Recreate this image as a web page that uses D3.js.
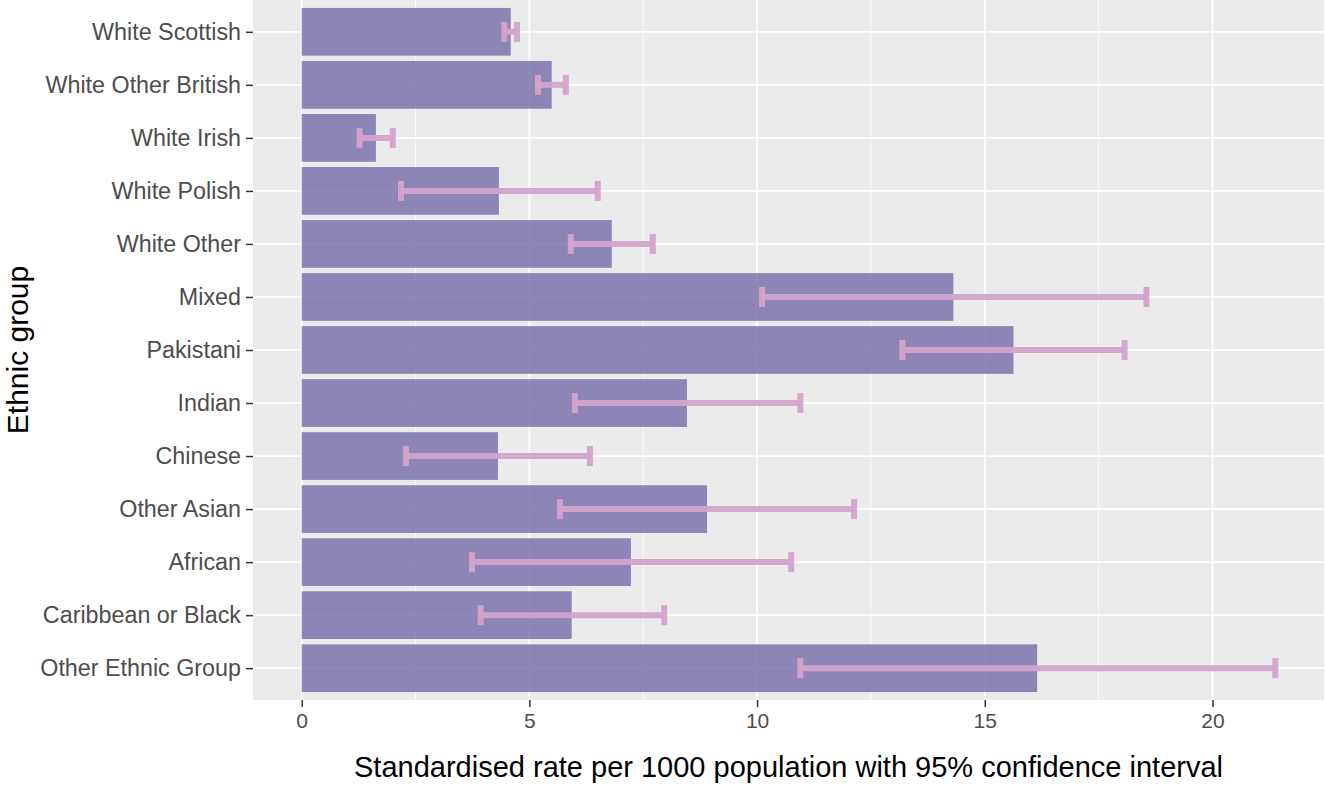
<!DOCTYPE html>
<html>
<head>
<meta charset="utf-8">
<script src="https://cdn.jsdelivr.net/npm/d3@7"></script>
<style>
  body { margin: 0; background: #fff; }
  text { font-family: "Liberation Sans", Arial, sans-serif; }
</style>
</head>
<body>
<svg id="chart" width="1325" height="785"></svg>
<script>
const groups = ["White Scottish", "White Other British", "White Irish", "White Polish", "White Other",
  "Mixed", "Pakistani", "Indian", "Chinese", "Other Asian", "African", "Caribbean or Black", "Other Ethnic Group"];
const rates = [4.59, 5.49, 1.63, 4.33, 6.81, 14.31, 15.63, 8.46, 4.31, 8.90, 7.23, 5.93, 16.15];
const lower = [4.45, 5.19, 1.27, 2.18, 5.91, 10.11, 13.19, 6.00, 2.29, 5.67, 3.74, 3.93, 10.95];
const upper = [4.73, 5.80, 2.00, 6.50, 7.71, 18.55, 18.07, 10.95, 6.33, 12.13, 10.75, 7.96, 21.38];
const xTicks = [0, 5, 10, 15, 20];
const xMinor = [2.5, 7.5, 12.5, 17.5, 22.5];

const data = groups.map((g, i) => ({group: g, rate: rates[i], lo: lower[i], hi: upper[i]}));

const margin = {top: 0, right: 1, bottom: 85, left: 253};
const svg = d3.select("#chart");
const width = +svg.attr("width") - margin.left - margin.right;
const height = +svg.attr("height") - margin.top - margin.bottom;
const g = svg.append("g").attr("transform", `translate(${margin.left},${margin.top})`);

const xMax = d3.max(upper);
const pad = xMax * 0.05;
const x = d3.scaleLinear().domain([-pad, xMax + pad]).range([0, width]);

// discrete y with ggplot-like 0.6 expansion
const step = height / (groups.length - 1 + 1.2);
const y = d3.scalePoint().domain(groups).range([0.6 * step, height - 0.6 * step]);
const barH = step * 0.9;

// panel
g.append("rect").attr("width", width).attr("height", height).attr("fill", "#ebebeb");

g.selectAll(".minor").data(xMinor.filter(v => x(v) < width)).join("line")
  .attr("x1", d => x(d)).attr("x2", d => x(d)).attr("y1", 0).attr("y2", height)
  .attr("stroke", "#fff").attr("stroke-width", 0.8);
g.selectAll(".major").data(xTicks).join("line")
  .attr("x1", d => x(d)).attr("x2", d => x(d)).attr("y1", 0).attr("y2", height)
  .attr("stroke", "#fff").attr("stroke-width", 1.7);
g.selectAll(".hgrid").data(groups).join("line")
  .attr("x1", 0).attr("x2", width).attr("y1", d => y(d)).attr("y2", d => y(d))
  .attr("stroke", "#fff").attr("stroke-width", 1.7);

// bars
g.selectAll(".bar").data(data).join("rect")
  .attr("x", x(0)).attr("y", d => y(d.group) - barH / 2)
  .attr("width", d => x(d.rate) - x(0)).attr("height", barH)
  .attr("fill", "#7b73ad").attr("fill-opacity", 0.85);

// error bars
const eb = g.selectAll(".err").data(data).join("g").attr("stroke", "#d3a3cc").attr("stroke-opacity", 0.95);
eb.append("line")
  .attr("x1", d => x(d.lo)).attr("x2", d => x(d.hi))
  .attr("y1", d => y(d.group)).attr("y2", d => y(d.group)).attr("stroke-width", 6);
eb.append("line")
  .attr("x1", d => x(d.lo)).attr("x2", d => x(d.lo))
  .attr("y1", d => y(d.group) - 10).attr("y2", d => y(d.group) + 10).attr("stroke-width", 6);
eb.append("line")
  .attr("x1", d => x(d.hi)).attr("x2", d => x(d.hi))
  .attr("y1", d => y(d.group) - 10).attr("y2", d => y(d.group) + 10).attr("stroke-width", 6);

// axes
const xAxis = g.append("g").attr("transform", `translate(0,${height})`)
  .call(d3.axisBottom(x).tickValues(xTicks).tickSize(7).tickPadding(6));
xAxis.select(".domain").remove();
xAxis.selectAll("line").attr("stroke", "#333").attr("stroke-width", 1.5);
xAxis.selectAll("text").attr("fill", "#4d4d4d").attr("font-size", 21);

const yAxis = g.append("g").call(d3.axisLeft(y).tickSize(7).tickPadding(5));
yAxis.select(".domain").remove();
yAxis.selectAll("line").attr("stroke", "#333").attr("stroke-width", 1.5);
yAxis.selectAll("text").attr("fill", "#4d4d4d").attr("font-size", 23.3);

svg.append("text")
  .attr("x", margin.left + width / 2).attr("y", 777)
  .attr("text-anchor", "middle").attr("font-size", 29).attr("fill", "#000")
  .text("Standardised rate per 1000 population with 95% confidence interval");

svg.append("text")
  .attr("transform", `translate(28,${height / 2}) rotate(-90)`)
  .attr("text-anchor", "middle").attr("font-size", 30).attr("fill", "#000")
  .text("Ethnic group");
</script>
</body>
</html>
